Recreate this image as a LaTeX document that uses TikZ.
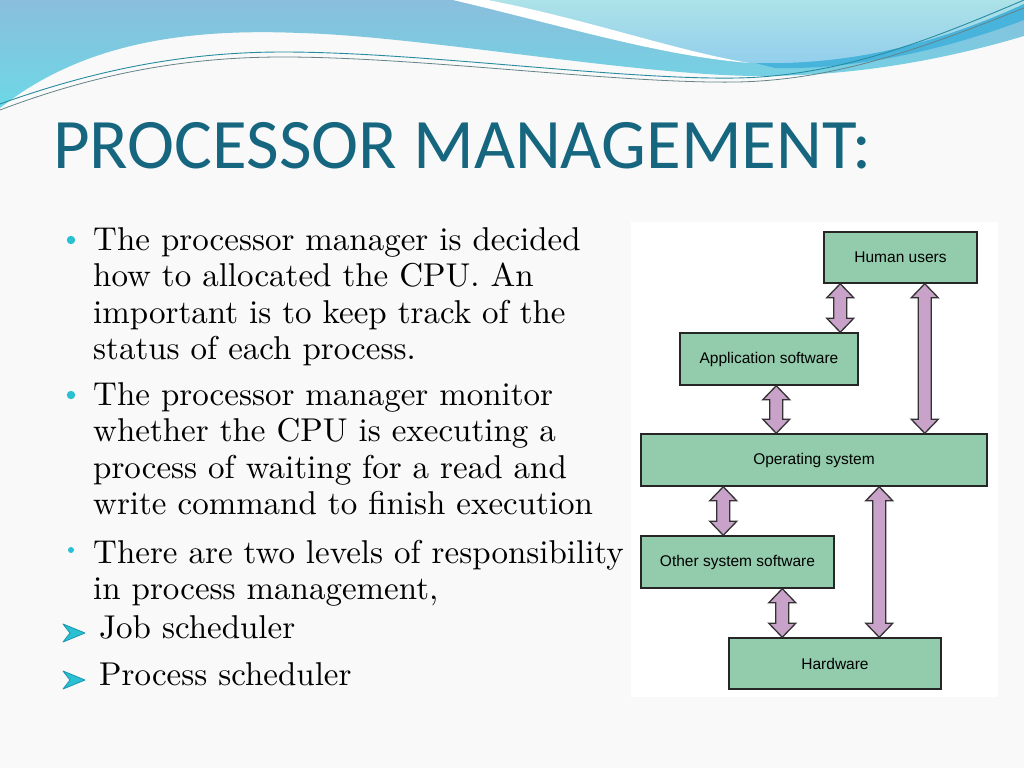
\documentclass[tikz,border=0pt]{standalone}
\usepackage{fontspec}
\newfontfamily\titlefont{Carlito}
\newfontfamily\boxfont{Liberation Sans}
\newfontfamily\bodyfont{lmroman10-regular.otf}
\usetikzlibrary{calc}
\definecolor{titleblue}{RGB}{22,102,128}
\definecolor{bulletcyan}{RGB}{40,192,210}
\definecolor{bulletdark}{RGB}{24,150,176}
\definecolor{boxgreen}{RGB}{146,204,172}
\definecolor{arrowpink}{RGB}{200,162,200}
\definecolor{slidegray}{RGB}{249,249,249}
\definecolor{waveblue}{RGB}{138,190,220}
\definecolor{wavecyan}{RGB}{108,216,230}
\definecolor{lightcyan}{RGB}{172,226,232}
\definecolor{skyblue}{RGB}{146,206,236}
\definecolor{stripblue}{RGB}{72,180,220}
\definecolor{lineteal}{RGB}{40,140,160}
%% double block arrow from #1 (top) to #2 (bottom)
\newcommand{\blockarrow}[2]{%
  \draw[arrowbox] let \p1=(#1), \p2=(#2) in
    (\x1,\y1) -- (\x1+13.5pt,\y1-14pt) -- (\x1+6.5pt,\y1-14pt)
    -- (\x1+6.5pt,\y2+14pt) -- (\x1+13.5pt,\y2+14pt) -- (\x2,\y2)
    -- (\x1-13.5pt,\y2+14pt) -- (\x1-6.5pt,\y2+14pt)
    -- (\x1-6.5pt,\y1-14pt) -- (\x1-13.5pt,\y1-14pt) -- cycle;}
\begin{document}
\begin{tikzpicture}[x=1pt,y=-1pt,
    layer/.style={draw=black!85,line width=1.5pt,fill=boxgreen,minimum height=51pt,inner sep=0pt,font=\boxfont\fontsize{15.5}{18}\selectfont},
    arrowbox/.style={draw=black!80,line width=1.3pt,fill=arrowpink},
    bodytext/.style={anchor=north west,align=left,inner sep=0pt,font=\bodyfont\fontsize{33}{36.5}\selectfont}]
        %% Slide
        \fill[slidegray] (0,0) rectangle (1024,768);
        \useasboundingbox (0,0) rectangle (1024,768);
        %% Waves
        \shade[top color=waveblue,bottom color=wavecyan] (0,0) -- (1024,0) -- (1024,36) .. controls (950,58) and (860,76) .. (760,76) .. controls (640,76) and (420,36) .. (300,33) .. controls (180,28) and (80,45) .. (0,108) -- cycle;
        \shade[top color=lightcyan,bottom color=skyblue] (488,0) .. controls (590,22) and (680,56) .. (755,63) .. controls (860,66) and (950,38) .. (1024,4) -- (1024,0) -- cycle;
        \fill[white] (453,0) .. controls (560,25) and (660,56) .. (750,63) .. controls (680,52) and (590,20) .. (488,0) -- cycle;
        \fill[stripblue] (755,63) .. controls (860,66) and (950,38) .. (1024,4) -- (1024,20) .. controls (950,48) and (860,70) .. (775,68) -- cycle;
        \draw[lineteal,line width=0.9pt] (0,104) .. controls (100,68) and (190,52) .. (283,52) .. controls (420,52) and (620,80) .. (737,78) .. controls (840,76) and (930,40) .. (1024,0);
        \draw[gray!70!lineteal,line width=0.8pt] (0,110) .. controls (100,72) and (190,57) .. (283,57) .. controls (420,57) and (620,84) .. (737,82) .. controls (840,80) and (930,45) .. (1024,8);
        %% Title
        \node[anchor=base west,inner sep=0pt,text=titleblue,font=\titlefont\fontsize{71}{80}\selectfont] (title) at (53,168) {PROCESSOR MANAGEMENT:};
        %% Bullets
        \fill[bulletcyan] (71,240) circle (4.2);
        \fill[bulletcyan] (71,395) circle (4.2);
        \fill[bulletcyan] (71,550) circle (3);
        \filldraw[fill=bulletcyan,draw=bulletdark,line width=0.8pt,line join=round] (63,624) -- (85,633) -- (63,642) -- (70,633) -- cycle;
        \filldraw[fill=bulletcyan,draw=bulletdark,line width=0.8pt,line join=round] (63,671) -- (85,680) -- (63,689) -- (70,680) -- cycle;
        \node[bodytext] (p1) at (93,227) {The processor manager is decided\\how to allocated the CPU. An\\important is to keep track of the\\status of each process.};
        \node[bodytext] (p2) at (93,382) {The processor manager monitor\\whether the CPU is executing a\\process of waiting for a read and\\write command to finish execution};
        \node[bodytext] (p3) at (93,540) {There are two levels of responsibility\\in process management,};
        \node[bodytext] (job) at (99,615) {Job scheduler};
        \node[bodytext] (proc) at (99,662) {Process scheduler};
        %% Layers
        \fill[white] (631,222) rectangle (998,697);
        \node[layer,minimum width=153pt] (hu) at (900.5,257.5) {Human users};
        \node[layer,minimum width=178pt,minimum height=52pt] (app) at (769,359) {Application software};
        \node[layer,minimum width=346pt,minimum height=52pt] (os) at (814,460) {Operating system};
        \node[layer,minimum width=193pt,minimum height=52pt] (oss) at (737.5,562) {Other system software};
        \node[layer,minimum width=212pt] (hw) at (835,663.5) {Hardware};
        %% Arrows
        \coordinate (ha) at ([xshift=17pt]hu.south west);
        \coordinate (ao) at ([xshift=97pt]app.south west);
        \coordinate (ho) at ([xshift=-53pt]hu.south east);
        \coordinate (oo) at ([xshift=83pt]os.south west);
        \coordinate (oh) at ([xshift=239pt]os.south west);
        \coordinate (sh) at ([xshift=142pt]oss.south west);
        \blockarrow{ha}{ha |- app.north}
        \blockarrow{ao}{ao |- os.north}
        \blockarrow{ho}{ho |- os.north}
        \blockarrow{oo}{oo |- oss.north}
        \blockarrow{oh}{oh |- hw.north}
        \blockarrow{sh}{sh |- hw.north}
    \end{tikzpicture}
\end{document}
